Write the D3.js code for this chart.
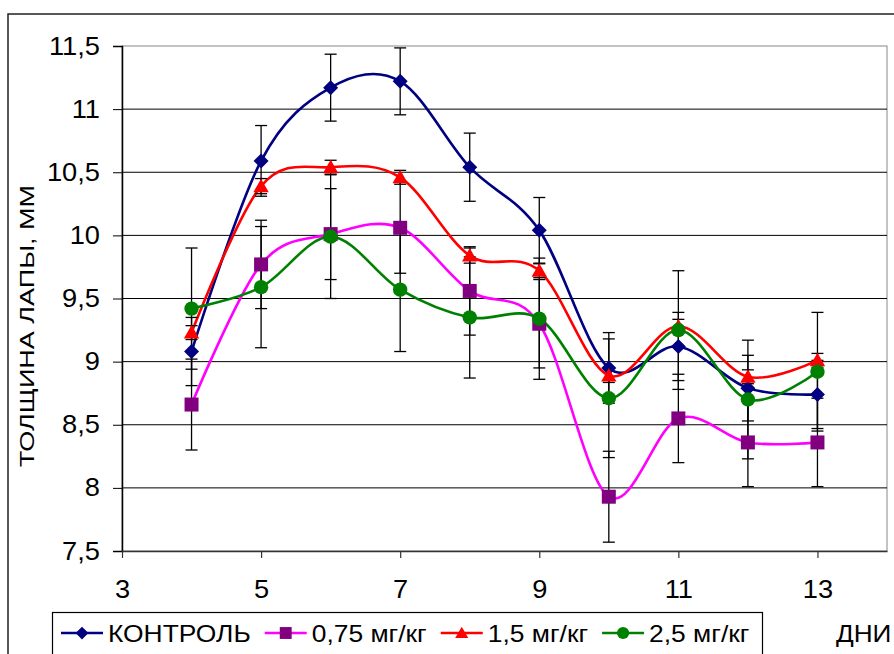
<!DOCTYPE html>
<html>
<head>
<meta charset="utf-8">
<script src="https://cdn.jsdelivr.net/npm/d3@7"></script>
<style>
  body { margin: 0; background: #fff; }
  svg { display: block; font-family: "Liberation Sans", Arial, sans-serif; }
</style>
</head>
<body>
<div id="chart"></div>
<script>
// days of the experiment
var days = [4, 5, 6, 7, 8, 9, 10, 11, 12, 13];

// paw thickness, mm
var control = [9.08, 10.59, 11.17, 11.22, 10.54, 10.04, 8.95, 9.12, 8.79, 8.74];
var dose075 = [8.66, 9.77, 10.01, 10.06, 9.56, 9.30, 7.93, 8.55, 8.36, 8.36];
var dose15  = [9.23, 10.39, 10.54, 10.46, 9.84, 9.72, 8.89, 9.28, 8.88, 9.01];
var dose25  = [9.42, 9.59, 9.99, 9.57, 9.35, 9.34, 8.71, 9.25, 8.70, 8.92];

// error bar half widths
var controlErr = [0.27, 0.28, 0.265, 0.265, 0.27, 0.26, 0.28, 0.27, 0.26, 0.27];
var dose075Err = [0.36, 0.35, 0.36, 0.36, 0.35, 0.35, 0.36, 0.35, 0.35, 0.35];
var dose15Err  = [0.055, 0.06, 0.055, 0.055, 0.06, 0.055, 0.055, 0.055, 0.055, 0.055];
var dose25Err  = [0.48, 0.48, 0.49, 0.49, 0.48, 0.48, 0.47, 0.47, 0.47, 0.47];

var seriesNames = ["КОНТРОЛЬ", "0,75 мг/кг", "1,5 мг/кг", "2,5 мг/кг"];
var xTicks = [3, 5, 7, 9, 11, 13];
var yTicks = [7.5, 8, 8.5, 9, 9.5, 10, 10.5, 11, 11.5];

var width = 894, height = 654;
// note: "top" is taken by window.top, so use plot* names
var plotLeft = 122, plotRight = 887, plotTop = 46, plotBottom = 551;

var series = [
  { name: seriesNames[0], values: control, err: controlErr, line: "#000080", fill: "#000080", marker: "diamond" },
  { name: seriesNames[1], values: dose075, err: dose075Err, line: "#FF00FF", fill: "#800080", marker: "square" },
  { name: seriesNames[2], values: dose15,  err: dose15Err,  line: "#FF0000", fill: "#FF0000", marker: "triangle" },
  { name: seriesNames[3], values: dose25,  err: dose25Err,  line: "#008000", fill: "#008000", marker: "circle" }
];

var x = d3.scaleLinear().domain([3, 14]).range([plotLeft, plotRight]);
var y = d3.scaleLinear().domain([7.5, 11.5]).range([plotBottom, plotTop]);

var svg = d3.select("#chart").append("svg")
  .attr("width", width)
  .attr("height", height);

// the original text is a bit wider than Liberation Sans
function stretch(sel, k) {
  sel.each(function() {
    var len = this.getComputedTextLength();
    d3.select(this).attr("textLength", len * k).attr("lengthAdjust", "spacingAndGlyphs");
  });
}

// outer chart frame (runs off the picture right and bottom)
svg.append("path")
  .attr("d", "M8,660 L8,14 L900,14")
  .attr("fill", "none")
  .attr("stroke", "#222")
  .attr("stroke-width", 1.5);

// plot area border
svg.append("rect")
  .attr("x", plotLeft).attr("y", plotTop)
  .attr("width", plotRight - plotLeft).attr("height", plotBottom - plotTop)
  .attr("fill", "none")
  .attr("stroke", "#888")
  .attr("stroke-width", 1);

// gridlines
svg.append("g")
  .selectAll("line")
  .data(yTicks.slice(1, -1))
  .enter()
  .append("line")
  .attr("x1", plotLeft).attr("x2", plotRight)
  .attr("y1", function(d) { return y(d); })
  .attr("y2", function(d) { return y(d); })
  .attr("stroke", "#000")
  .attr("stroke-width", 1);

function comma(d) { return String(d).replace(".", ","); }

var yAxis = svg.append("g")
  .attr("transform", "translate(" + plotLeft + ",0)")
  .call(d3.axisLeft(y).tickValues(yTicks).tickSize(9).tickPadding(13).tickFormat(comma));
yAxis.select(".domain").attr("stroke", "#000").attr("stroke-width", 1.5);
yAxis.selectAll(".tick line").attr("stroke", "#000");
yAxis.selectAll("text").attr("font-size", 25).attr("fill", "#000")
  .attr("font-family", "Liberation Sans, Arial, sans-serif")
  .call(stretch, 1.09);

var xAxis = svg.append("g")
  .attr("transform", "translate(0," + plotBottom + ")")
  .call(d3.axisBottom(x).tickValues(xTicks).tickSize(7).tickPadding(4).tickSizeOuter(0));
xAxis.select(".domain").attr("stroke", "#333").attr("stroke-width", 1.5);
xAxis.selectAll(".tick line").attr("stroke", "#333").attr("stroke-width", 1.2);
xAxis.selectAll("text").attr("font-size", 25).attr("fill", "#000")
  .attr("dy", null).attr("y", 47)
  .attr("font-family", "Liberation Sans, Arial, sans-serif")
  .call(stretch, 1.09);

// axis titles
svg.append("text")
  .attr("transform", "translate(34,326) rotate(-90)")
  .attr("text-anchor", "middle")
  .attr("font-size", 21)
  .attr("textLength", 282)
  .attr("lengthAdjust", "spacingAndGlyphs")
  .text("ТОЛЩИНА ЛАПЫ, ММ");

svg.append("text")
  .attr("x", 836).attr("y", 642)
  .attr("font-size", 24)
  .text("ДНИ")
  .call(stretch, 1.09);

// smoothed lines, like the spreadsheet's smoothing
var line = d3.line()
  .x(function(d) { return x(d[0]); })
  .y(function(d) { return y(d[1]); })
  .curve(d3.curveCatmullRom.alpha(0));

svg.append("g")
  .selectAll("path")
  .data(series)
  .enter()
  .append("path")
  .attr("d", function(s) { return line(days.map(function(d, i) { return [d, s.values[i]]; })); })
  .attr("fill", "none")
  .attr("stroke", function(s) { return s.line; })
  .attr("stroke-width", 2.6);

// error bars
var cap = 6;
series.forEach(function(s) {
  var g = svg.append("g").attr("stroke", "#000").attr("stroke-width", 1.3);
  days.forEach(function(d, i) {
    var hi = y(s.values[i] + s.err[i]), lo = y(s.values[i] - s.err[i]), cx = x(d);
    g.append("line").attr("x1", cx).attr("x2", cx).attr("y1", hi).attr("y2", lo);
    g.append("line").attr("x1", cx - cap).attr("x2", cx + cap).attr("y1", hi).attr("y2", hi);
    g.append("line").attr("x1", cx - cap).attr("x2", cx + cap).attr("y1", lo).attr("y2", lo);
  });
});

function markerPath(type) {
  if (type === "diamond") return "M0,-7.5L7.5,0L0,7.5L-7.5,0Z";
  if (type === "square") return "M-7,-7H7V7H-7Z";
  if (type === "triangle") return "M0,-7.5L7.7,6L-7.7,6Z";
  return d3.symbol().type(d3.symbolCircle).size(Math.PI * 7.2 * 7.2)();
}

series.forEach(function(s) {
  svg.append("g")
    .selectAll("path")
    .data(days)
    .enter()
    .append("path")
    .attr("transform", function(d, i) { return "translate(" + x(d) + "," + y(s.values[i]) + ")"; })
    .attr("d", markerPath(s.marker))
    .attr("fill", s.fill);
});

// legend
var legend = svg.append("g");
legend.append("rect")
  .attr("x", 52.5).attr("y", 612.5)
  .attr("width", 710).attr("height", 50)
  .attr("fill", "#fff")
  .attr("stroke", "#000")
  .attr("stroke-width", 1.2);

var lx = 61;
series.forEach(function(s) {
  var item = legend.append("g").attr("transform", "translate(" + lx + ",633)");
  item.append("line")
    .attr("x1", 0).attr("x2", 42)
    .attr("stroke", s.line).attr("stroke-width", 2.6);
  item.append("path")
    .attr("transform", "translate(21,0) scale(0.85)")
    .attr("d", markerPath(s.marker))
    .attr("fill", s.fill);
  var t = item.append("text")
    .attr("x", 47).attr("y", 9)
    .attr("font-size", 24)
    .text(s.name);
  var w = t.node().getComputedTextLength() * 1.1;
  t.attr("textLength", w).attr("lengthAdjust", "spacingAndGlyphs");
  lx += 47 + w + 14;
});
</script>
</body>
</html>
